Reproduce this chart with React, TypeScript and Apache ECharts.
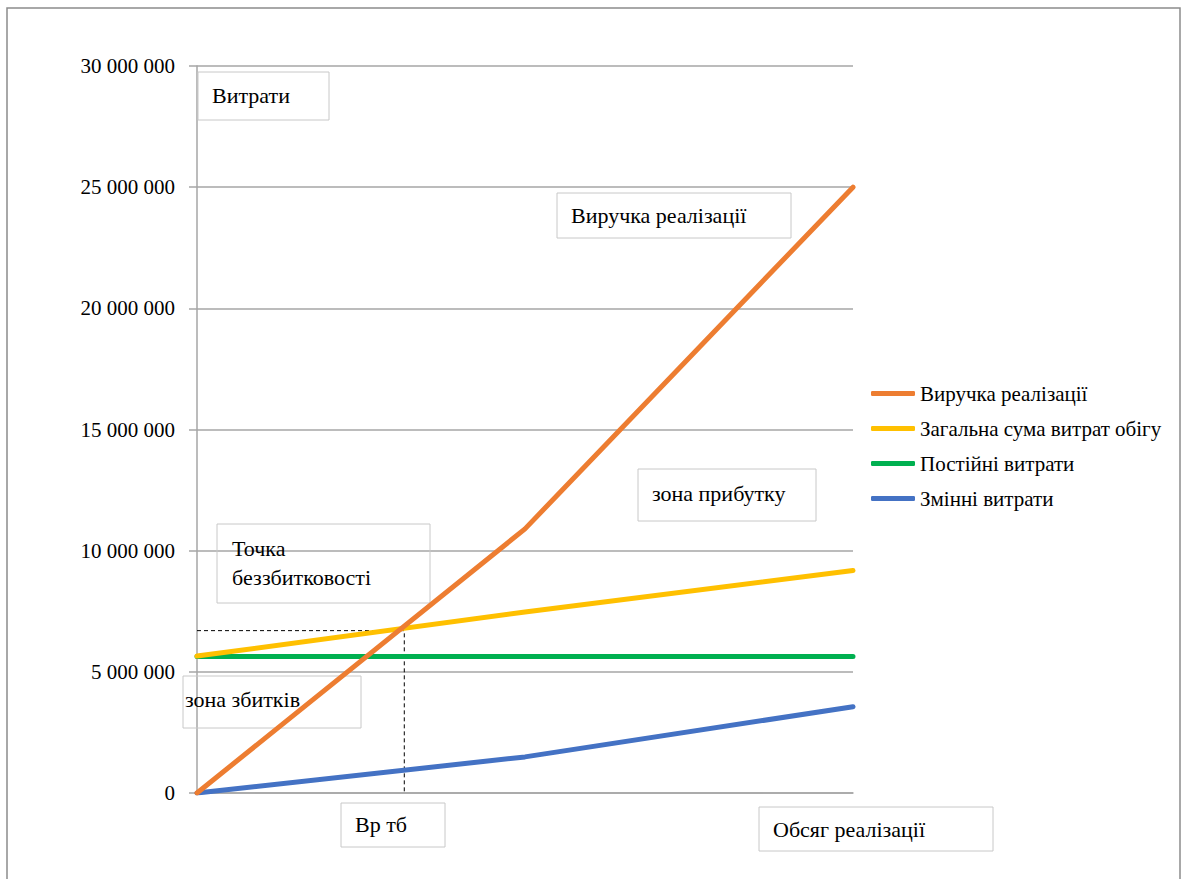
import React, { useEffect, useRef } from "react";
import * as echarts from "echarts";

const volume = [0, 50, 100];
const revenue = [0, 10900000, 25000000];
const totalCosts = [5650000, 7470000, 9180000];
const fixedCosts = [5630000, 5630000, 5630000];
const variableCosts = [0, 1490000, 3560000];
const breakEvenX = 31.6;
const breakEvenY = 6700000;
const yTicks = { min: 0, max: 30000000, interval: 5000000 };

const seriesNames = [
  "Виручка реалізації",
  "Загальна сума витрат обігу",
  "Постійні витрати",
  "Змінні витрати",
];
const seriesColors = ["#ED7D31", "#FFC000", "#00B050", "#4472C4"];

const FONT = "Times New Roman";
const FS = 21;
const FS_NOTE = 22;

function fmt(v: number) {
  return String(v).replace(/\B(?=(\d{3})+(?!\d))/g, " ");
}

function pair(xs: number[], ys: number[]) {
  return xs.map((x, i) => [x, ys[i]]);
}

function box(x: number, y: number, w: number, h: number) {
  return {
    type: "rect",
    shape: { x, y, width: w, height: h },
    style: { fill: "none", stroke: "#c8c8c8", lineWidth: 1 },
    z: 5,
  };
}
function label(text: string, x: number, y: number) {
  return {
    type: "text",
    x,
    y: y - 12,
    style: {
      text,
      fontSize: FS_NOTE,
      fontFamily: FONT,
      fill: "#000",
    },
    z: 6,
  };
}

export default function App() {
  const ref = useRef<HTMLDivElement>(null);
  useEffect(() => {
    if (!ref.current) return;
    const chart = echarts.init(ref.current, undefined, { renderer: "svg" });
    const lineData = [revenue, totalCosts, fixedCosts, variableCosts];
    const main = lineData.map((d, i) => ({
      name: seriesNames[i],
      type: "line",
      data: pair(volume, d),
      showSymbol: false,
      symbol: "none",
      lineStyle: { width: 5, color: seriesColors[i], cap: "round" },
      itemStyle: { color: seriesColors[i] },
      z: 10 - i,
    }));
    const option = {
      animation: false,
      backgroundColor: "#fff",
      grid: { left: 197, right: 331, top: 66, bottom: 86 },
      legend: {
        data: seriesNames,
        orient: "vertical",
        left: 866,
        top: 378,
        itemWidth: 44,
        itemHeight: 5,
        itemGap: 14,
        icon: "roundRect",
        textStyle: { fontSize: FS, fontFamily: FONT, color: "#000" },
      },
      xAxis: {
        type: "value",
        min: 0,
        max: 100,
        axisLine: { show: true, lineStyle: { color: "#a6a6a6", width: 1.5 } },
        axisTick: { show: false },
        axisLabel: { show: false },
        splitLine: { show: false },
      },
      yAxis: {
        type: "value",
        min: yTicks.min,
        max: yTicks.max,
        interval: yTicks.interval,
        axisLine: { show: true, lineStyle: { color: "#a6a6a6", width: 1.5 } },
        axisTick: { show: true, length: 8, lineStyle: { color: "#a6a6a6", width: 1.5 } },
        axisLabel: {
          formatter: (v: number) => fmt(v),
          fontSize: FS,
          fontFamily: FONT,
          color: "#000",
          margin: 22,
        },
        splitLine: { show: true, lineStyle: { color: "#a6a6a6", width: 1.5 } },
      },
      series: [
        {
          name: "break-even",
          type: "line",
          data: [
            [volume[0], breakEvenY],
            [breakEvenX, breakEvenY],
            [breakEvenX, 0],
          ],
          showSymbol: false,
          symbol: "none",
          lineStyle: { width: 1, color: "#000", type: [4, 3] },
          z: 3,
          silent: true,
        },
        ...main,
      ],
      graphic: [
        box(198, 72, 131, 48),
        label("Витрати", 212, 96),
        box(557, 193, 234, 45),
        label("Виручка реалізації", 571, 216),
        box(217, 524, 213, 79),
        label("Точка", 232, 549),
        label("беззбитковості", 232, 578),
        box(183, 676, 178, 52),
        label("зона збитків", 185, 700),
        box(638, 469, 178, 52),
        label("зона прибутку", 652, 494),
        box(341, 803, 104, 44),
        label("Вр тб", 355, 825),
        box(759, 807, 234, 44),
        label("Обсяг реалізації", 773, 830),
        {
          type: "rect",
          shape: { x: 7, y: 8, width: 1173, height: 900 },
          style: { fill: "none", stroke: "#8c8c8c", lineWidth: 1.5 },
          z: 1,
        },
      ],
    };
    chart.setOption(option);
    let alive = true;
    const fonts = (document as any).fonts;
    if (fonts && fonts.ready) {
      fonts.ready.then(() => {
        if (!alive) return;
        chart.clear();
        chart.setOption(option);
      });
    }
    return () => {
      alive = false;
      chart.dispose();
    };
  }, []);
  return (
    <div
      ref={ref}
      style={{ position: "absolute", left: 0, top: 0, width: 1184, height: 879 }}
    />
  );
}
